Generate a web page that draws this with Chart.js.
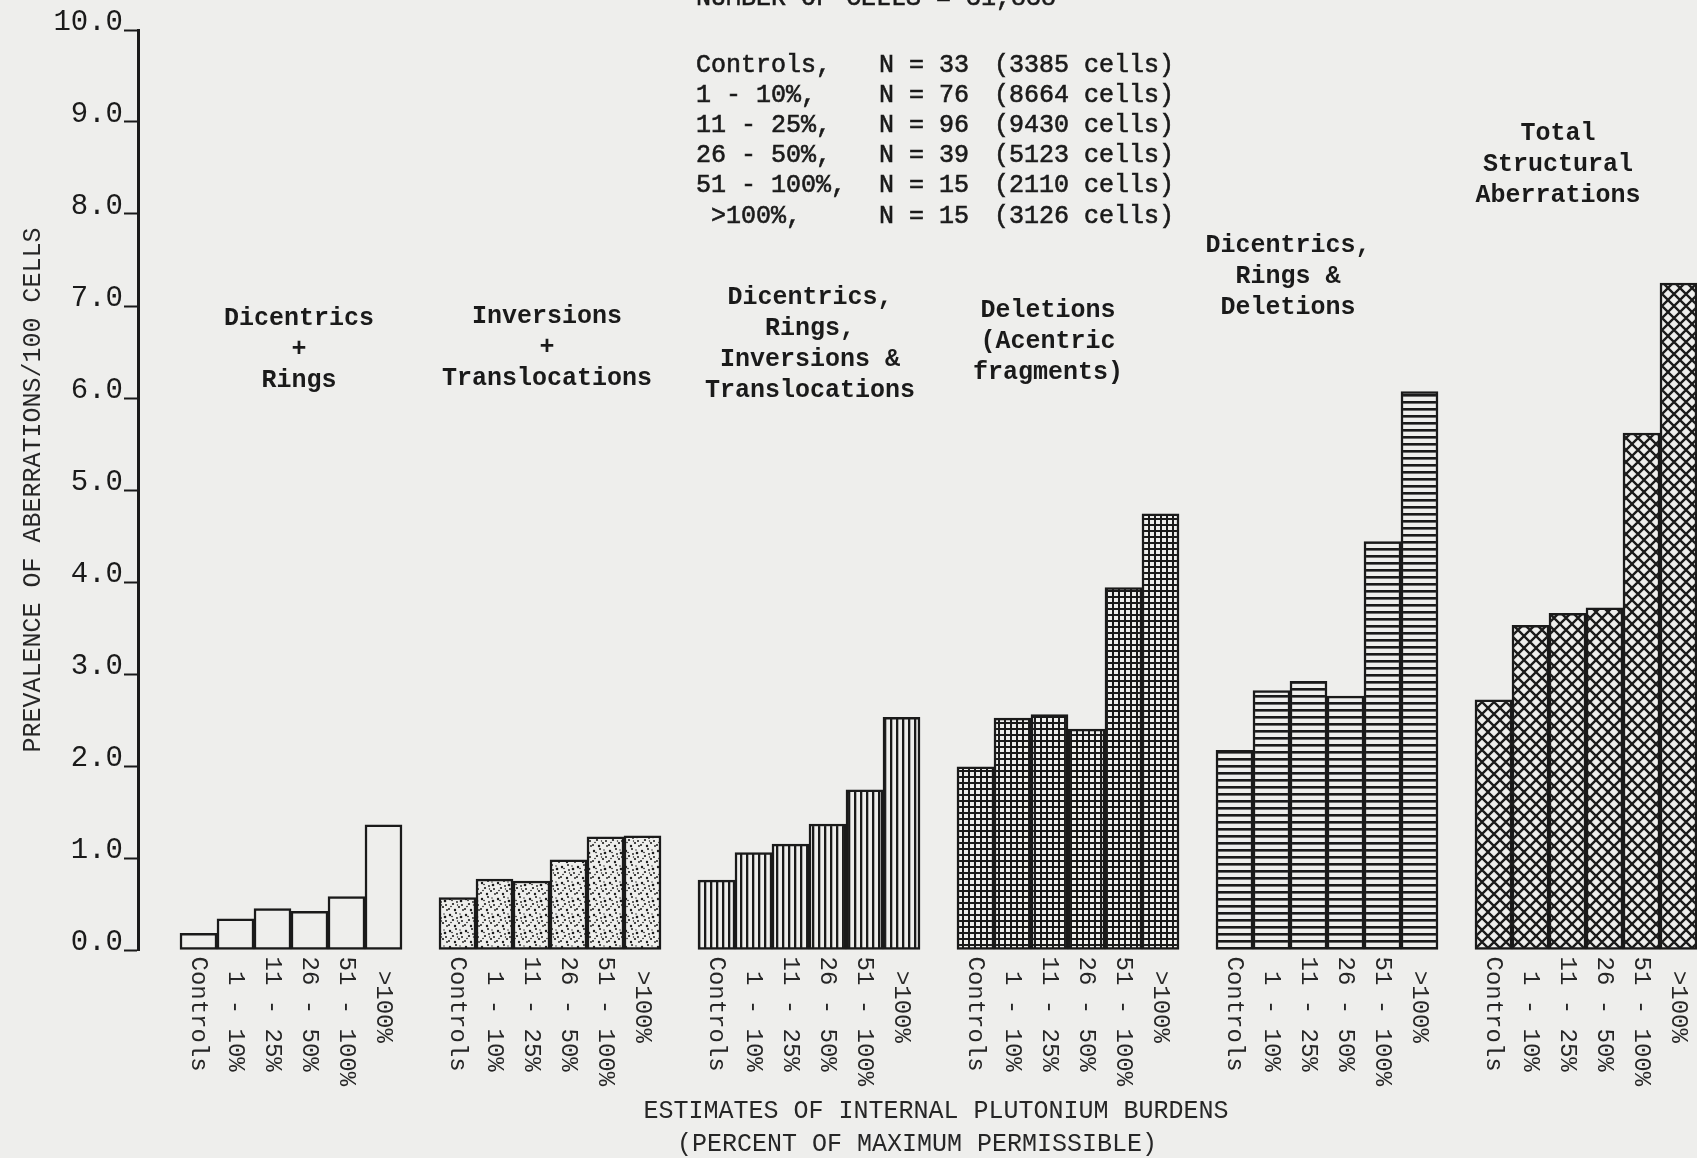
<!DOCTYPE html>
<html>
<head>
<meta charset="utf-8">
<script src="https://cdn.jsdelivr.net/npm/chart.js@4"></script>
<style>
  html, body { margin: 0; padding: 0; background: #eeeeec; overflow: hidden; }
  canvas { display: block; }
</style>
</head>
<body>
<canvas id="chart" width="1697" height="1158"></canvas>
<script>
// Data (aberrations per 100 cells)
const doseGroups = ['Controls', ' 1 - 10%', '11 - 25%', '26 - 50%', '51 - 100%', ' >100%'];
const dicentricsRings = [0.18, 0.34, 0.45, 0.42, 0.58, 1.36];
const inversionsTranslocations = [0.57, 0.77, 0.75, 0.98, 1.23, 1.24];
const dicRingsInvTrans = [0.76, 1.06, 1.15, 1.37, 1.74, 2.53];
const deletions = [1.99, 2.52, 2.56, 2.40, 3.94, 4.74];
const dicRingsDeletions = [2.17, 2.82, 2.92, 2.76, 4.44, 6.07];
const totalStructural = [2.72, 3.53, 3.66, 3.72, 5.62, 7.25];

const yTickLabels = ['0.0', '1.0', '2.0', '3.0', '4.0', '5.0', '6.0', '7.0', '8.0', '9.0', '10.0'];

// legend block: group, number of subjects, number of cells
const legendGroups = ['Controls,', '1 - 10%,', '11 - 25%,', '26 - 50%,', '51 - 100%,', ' >100%,'];
const legendSubjects = [33, 76, 96, 39, 15, 15];
const legendCells = [3385, 8664, 9430, 5123, 2110, 3126];

const groupTitles = [
    ['Dicentrics', '+', 'Rings'],
    ['Inversions', '+', 'Translocations'],
    ['Dicentrics,', 'Rings,', 'Inversions &', 'Translocations'],
    ['Deletions', '(Acentric', 'fragments)'],
    ['Dicentrics,', 'Rings &', 'Deletions'],
    ['Total', 'Structural', 'Aberrations']
];

const yTitle = 'PREVALENCE OF ABERRATIONS/100 CELLS';
const xTitle = ['ESTIMATES OF INTERNAL PLUTONIUM BURDENS', '(PERCENT OF MAXIMUM PERMISSIBLE)'];

// Look
const paper = '#eeeeec';
const ink = '#1a1a1a';
const mono = '"Liberation Mono", "DejaVu Sans Mono", monospace';

const canvas = document.getElementById('chart');
const ctx = canvas.getContext('2d');

function makePattern(size, draw) {
    const c = document.createElement('canvas');
    c.width = size;
    c.height = size;
    const g = c.getContext('2d');
    g.fillStyle = paper;
    g.fillRect(0, 0, size, size);
    g.fillStyle = ink;
    g.strokeStyle = ink;
    draw(g, size);
    return ctx.createPattern(c, 'repeat');
}

const stipple = makePattern(16, (g) => {
    const dots = [[2, 3, 1.2], [8, 1, 1], [13, 5, 1.3], [5, 8, 1.1], [11, 11, 1.1], [1, 13, 1],
                  [15, 14, 0.9], [7, 14, 1.2], [9, 6, 0.9], [14, 9, 1], [4, 4.5, 0.8],
                  [12, 2, 0.7], [3, 10.5, 0.8], [9.5, 9, 0.7]];
    dots.forEach(([x, y, r]) => { g.beginPath(); g.arc(x, y, r, 0, Math.PI * 2); g.fill(); });
});
const vlines = makePattern(6, (g, s) => g.fillRect(2, 0, 2.3, s));
const grid = makePattern(6, (g, s) => { g.fillRect(2, 0, 2, s); g.fillRect(0, 2, s, 2); });
const hlines = makePattern(7, (g, s) => g.fillRect(0, 2, s, 2.6));
const crosshatch = makePattern(12, (g, s) => {
    g.lineWidth = 2.3;
    g.beginPath();
    g.moveTo(0, 0); g.lineTo(s, s);
    g.moveTo(s, 0); g.lineTo(0, s);
    g.stroke();
});

const seriesList = [dicentricsRings, inversionsTranslocations, dicRingsInvTrans, deletions, dicRingsDeletions, totalStructural];
const fills = [paper, stipple, vlines, grid, hlines, crosshatch];
const slotsPerGroup = 7; // six bars plus one empty slot between groups

const datasets = seriesList.map((values, g) => ({
    data: values.map((v, i) => ({ x: g * slotsPerGroup + i + 0.5, y: v })),
    backgroundColor: fills[g],
    borderColor: ink,
    borderWidth: 2.5,
    borderSkipped: false,
    barPercentage: 1,
    categoryPercentage: 1,
    grouped: false
}));

// where the text annotations sit (pixels)
const titleLayout = [
    { cx: 299, y: 319 }, { cx: 547, y: 317 }, { cx: 810, y: 298 },
    { cx: 1048, y: 311 }, { cx: 1288, y: 246 }, { cx: 1558, y: 134 }
];

function inkText(c, text, x, y, stroke) {
    c.fillText(text, x, y);
    if (stroke) c.strokeText(text, x, y);
}

const annotations = {
    id: 'annotations',
    afterDraw(chart) {
        const c = chart.ctx;
        c.save();
        c.fillStyle = ink;
        c.strokeStyle = ink;
        c.lineWidth = 0.6;

        // clipped heading at the very top
        const totalCells = legendCells.reduce((a, b) => a + b, 0);
        c.font = `25px ${mono}`;
        c.textAlign = 'left';
        c.textBaseline = 'alphabetic';
        inkText(c, 'NUMBER OF CELLS = ' + totalCells.toLocaleString('en-US'), 696, 5, true);

        // legend block
        c.textBaseline = 'middle';
        legendGroups.forEach((name, i) => {
            const y = 65 + i * 30.2;
            inkText(c, name, 696, y, true);
            inkText(c, `N = ${legendSubjects[i]}`, 879, y, true);
            inkText(c, `(${legendCells[i]} cells)`, 994, y, true);
        });

        // group titles
        c.font = `bold 25px ${mono}`;
        c.textAlign = 'center';
        groupTitles.forEach((lines, g) => {
            const pos = titleLayout[g];
            lines.forEach((line, j) => c.fillText(line, pos.cx, pos.y + j * 30.8));
        });

        // category labels, rotated clockwise under each bar
        c.font = `24px ${mono}`;
        c.fillStyle = '#262626';
        c.textAlign = 'left';
        c.textBaseline = 'middle';
        chart.data.datasets.forEach((ds, d) => {
            chart.getDatasetMeta(d).data.forEach((bar, i) => {
                c.save();
                c.translate(bar.x, bar.base + 7);
                c.rotate(Math.PI / 2);
                c.fillText(doseGroups[i], 0, 0);
                c.restore();
            });
        });

        // x axis title
        c.fillStyle = '#262626';
        c.font = `25px ${mono}`;
        c.textAlign = 'center';
        c.fillText(xTitle[0], 936, 1111);
        c.fillText(xTitle[1], 917, 1144);
        c.restore();
    }
};

new Chart(ctx, {
    type: 'bar',
    data: { datasets },
    options: {
        responsive: false,
        animation: false,
        devicePixelRatio: 1,
        events: [],
        layout: { padding: { top: 30, right: 0, bottom: 0, left: 0 } },
        plugins: {
            legend: { display: false },
            tooltip: { enabled: false }
        },
        scales: {
            x: {
                type: 'linear',
                min: -1.135,
                max: 41,
                grid: { display: false },
                border: { display: false },
                ticks: { display: false },
                afterBuildTicks: (scale) => { scale.ticks = []; },
                afterFit: (scale) => { scale.height = 208; }
            },
            y: {
                min: 0,
                max: 10,
                ticks: {
                    stepSize: 1,
                    padding: 1,
                    color: ink,
                    font: { family: mono, size: 29, lineHeight: '16px' },
                    callback: (value, index) => [yTickLabels[index], '']
                },
                grid: {
                    display: true,
                    drawOnChartArea: false,
                    drawTicks: true,
                    tickLength: 14,
                    tickWidth: 2,
                    tickColor: ink
                },
                border: { display: true, color: ink, width: 3 },
                title: {
                    display: true,
                    text: yTitle,
                    color: '#262626',
                    font: { family: mono, size: 25 },
                    padding: { top: 18, bottom: 0 }
                },
                afterFit: (scale) => { scale.width = 138; }
            }
        }
    },
    plugins: [annotations]
});
</script>
</body>
</html>
